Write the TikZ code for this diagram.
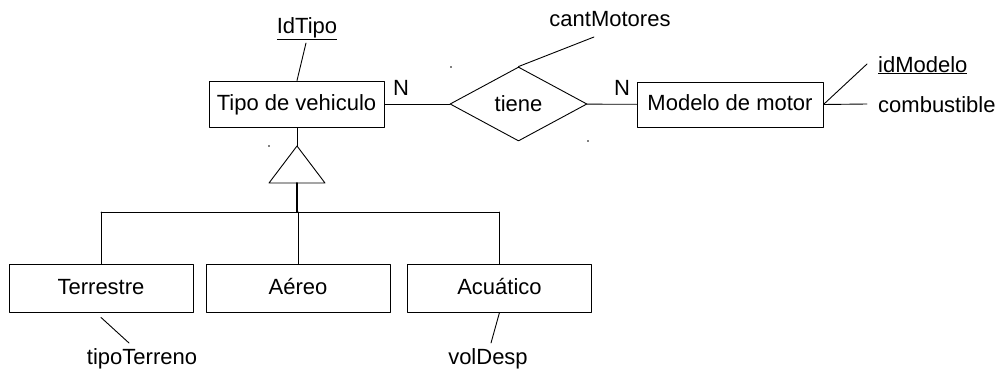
\documentclass[tikz,border=0pt]{standalone}
\usepackage{fontspec}
\setmainfont{Liberation Sans}
\usetikzlibrary{shapes.geometric}
\newcommand{\erfont}{\fontsize{22}{26}\selectfont}
\tikzset{
    entidad/.style={
        draw, line width=0.9pt, inner sep=0pt,
        text height=16pt, text depth=4pt, font=\erfont
    },
    relacion/.style={
        draw, diamond, line width=0.9pt, inner sep=0pt, aspect=1.85,
        minimum width=137pt, minimum height=74pt, font=\erfont
    },
    lab/.style={
        anchor=base, inner sep=0pt, font=\erfont
    },
    linea/.style={line width=0.9pt}
}

\begin{document}
\begin{tikzpicture}[x=1pt,y=-1pt,line cap=round,line join=round]
\useasboundingbox (0,0) rectangle (1003,372);

% entities and the relationship between them
\node[entidad, minimum width=175pt, minimum height=46pt] (tipo) at (296.5,104) {Tipo de vehiculo};
\node[relacion] (tiene) at (518.5,104) {tiene};
\node[entidad, minimum width=186pt, minimum height=45pt] (modelo) at (730,104.5) {Modelo de motor};

\draw[linea] (tipo) -- (tiene);
\draw[linea] (tiene) -- (modelo);

% cardinalities
\node[lab] (cardtipo) at (401,95) {N};
\node[lab] (cardmodelo) at (622,95) {N};

% attributes
\node[lab] (idtipo) at (307,33) {\underline{IdTipo}};
\coordinate (idtipoend) at (306,43);
\draw[linea] (tipo.north -| 297,0) -- (idtipoend);

\node[lab] (cantmotores) at (610,27) {cantMotores};
\coordinate (cantend) at (594,37);
\draw[linea] (tiene.north) -- (cantend);

\node[lab, anchor=base west] (idmodelo) at (878,72) {\underline{idModelo}};
\node[lab, anchor=base west] (combustible) at (878,112) {combustible};
\coordinate (idmodeloend) at (867,64);
\coordinate (combend) at (867,104);
\draw[linea] (modelo.east) -- (idmodeloend);
\draw[linea] (modelo.east) -- (combend);

% generalization triangle
\coordinate (isa) at (297,146);
\coordinate (isabase) at (297,183);
\coordinate (barra) at (297,212);
\draw[linea] (tipo.south -| isa) -- (isa);
\draw[linea] (isa) -- ++(-28,37) -- ++(56,0) -- cycle;
\draw[line width=2pt] (isabase) -- (barra);

% subtypes
\foreach \nombre/\texto/\x in {terrestre/Terrestre/101, aereo/Aéreo/298, acuatico/Acuático/499.5} {
  \node[entidad, minimum width=184pt, minimum height=48pt] (\nombre) at (\x,288) {\texto};
  \draw[linea] (\nombre.north) -- (\nombre.north |- barra);
}
\draw[linea] (terrestre.north |- barra) -- (acuatico.north |- barra);

% subtype attributes
\node[lab] (tipoterreno) at (142,364) {tipoTerreno};
\coordinate (terrenoend) at (129,343);
\draw[linea] ([yshift=-5pt]terrestre.south) -- (terrenoend);

\node[lab] (voldesp) at (488,364) {volDesp};
\coordinate (voldespend) at (491,343);
\draw[linea] (acuatico.south) -- (voldespend);

% stray marks
\fill (269,146) circle (0.8pt);
\fill (451,67) circle (0.8pt);
\fill (588,141) circle (0.8pt);

\end{tikzpicture}
\end{document}
